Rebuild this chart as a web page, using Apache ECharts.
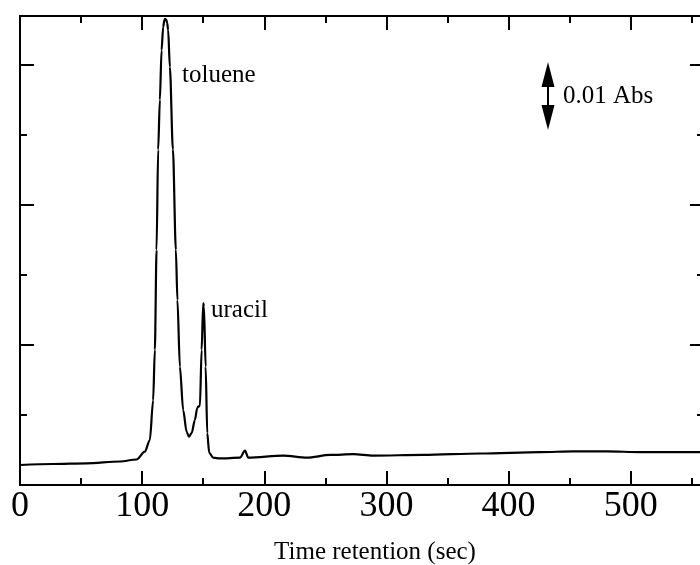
<!DOCTYPE html>
<html>
<head>
<meta charset="utf-8">
<script src="https://cdn.jsdelivr.net/npm/echarts@6/dist/echarts.min.js"></script>
<style>html,body{margin:0;padding:0;background:#fff}#c{width:700px;height:565px}</style>
</head>
<body>
<div id="c"></div>
<script>
// Retention time (sec)
var timeSec = [0, 26.8, 54.4, 81.7, 95.4, 102.2, 106.3, 109.0, 110.4, 111.8, 113.1, 114.5, 115.9, 117.2, 118.2, 118.9, 119.7, 120.5, 121.3, 122.7, 125.2, 127.6, 128.9, 130.9, 133.6, 136.4, 138.3, 140.5, 143.2, 145.1, 145.9, 147.3, 148.7, 150.0, 150.6, 152.0, 153.3, 154.9, 158.2, 163.7, 180.1, 184.2, 186.9, 215.6, 234.8, 253.9, 272.9, 289.1, 330.1, 376.8, 426.0, 453.0, 480.7, 507.9, 557.1];
// Absorbance (Abs)
var absorbance = [0.00286, 0.0030, 0.0031, 0.00336, 0.00364, 0.00476, 0.00643, 0.0121, 0.0193, 0.0336, 0.0479, 0.0550, 0.0621, 0.0654, 0.0664, 0.0666, 0.0665, 0.0660, 0.0650, 0.0597, 0.0479, 0.0336, 0.0264, 0.0169, 0.0107, 0.0076, 0.0069, 0.0074, 0.0093, 0.0110, 0.0112, 0.0113, 0.0193, 0.0260, 0.0255, 0.0169, 0.0074, 0.0046, 0.0039, 0.0038, 0.0039, 0.0049, 0.0039, 0.0042, 0.0039, 0.0043, 0.0044, 0.0042, 0.0043, 0.0045, 0.0047, 0.0048, 0.0048, 0.0047, 0.0047];
var xTickLabels = ['0', '100', '200', '300', '400', '500'];
var peakLabels = ['toluene', 'uracil'];
var scaleLabel = '0.01 Abs';

var FONT = "'Liberation Serif','Times New Roman',serif";
var data = timeSec.map(function (t, i) { return [t, absorbance[i]]; });

var chart = echarts.init(document.getElementById('c'), null, {renderer: 'canvas'});
var G = {left: 20, top: 16, width: 684, height: 469, outerBoundsMode: 'none', containLabel: false};
var axisLine = {show: true, onZero: false, lineStyle: {color: '#000', width: 2}};
function xAx(grid, pos, interval, len, labels) {
  return {
    type: 'value', gridIndex: grid, position: pos, min: 0, max: 560, interval: interval,
    axisLine: axisLine,
    axisTick: {show: true, inside: true, length: len, lineStyle: {color: '#000', width: 2}},
    splitLine: {show: false},
    axisLabel: labels ? {
      show: true, margin: 4, showMaxLabel: false, color: '#000', fontFamily: FONT, fontSize: 36,
      formatter: function (v) { var s = String(Math.round(v)); return xTickLabels.indexOf(s) >= 0 ? s : ''; }
    } : {show: false},
    name: labels ? 'Time retention (sec)' : '',
    nameLocation: 'middle', nameGap: 55,
    nameTextStyle: {color: '#000', fontFamily: FONT, fontSize: 25, padding: [0, 0, 0, 26]}
  };
}
function yAx(grid, pos, interval, len) {
  return {
    type: 'value', gridIndex: grid, position: pos, min: 0, max: 0.067, interval: interval,
    axisLine: axisLine,
    axisTick: {show: true, inside: true, length: len, lineStyle: {color: '#000', width: 2}},
    splitLine: {show: false},
    axisLabel: {show: false}
  };
}

chart.setOption({
  animation: false,
  backgroundColor: '#fff',
  grid: [Object.assign({}, G), Object.assign({}, G)],
  xAxis: [
    xAx(0, 'bottom', 100, 14, true),
    xAx(0, 'top', 100, 14, false),
    xAx(1, 'bottom', 50, 7, false),
    xAx(1, 'top', 50, 7, false)
  ],
  yAxis: [
    yAx(0, 'left', 0.02, 14),
    yAx(0, 'right', 0.02, 14),
    yAx(1, 'left', 0.01, 7),
    yAx(1, 'right', 0.01, 7)
  ],
  series: [{
    type: 'line', xAxisIndex: 0, yAxisIndex: 0, data: data,
    showSymbol: false, smooth: 0.3, smoothMonotone: 'x', clip: true,
    lineStyle: {color: '#000', width: 2.2}
  }],
  graphic: [
    {type: 'text', left: 182, top: 63, style: {text: peakLabels[0], font: '25px ' + FONT, fill: '#000'}},
    {type: 'text', left: 211, top: 298, style: {text: peakLabels[1], font: '25px ' + FONT, fill: '#000'}},
    {type: 'text', left: 563, top: 84, style: {text: scaleLabel, font: '25px ' + FONT, fill: '#000'}},
    {type: 'line', shape: {x1: 548, y1: 80, x2: 548, y2: 112}, style: {stroke: '#000', lineWidth: 2}},
    {type: 'polygon', shape: {points: [[548, 62], [541.5, 87], [554.5, 87]]}, style: {fill: '#000'}},
    {type: 'polygon', shape: {points: [[548, 130], [541.5, 105], [554.5, 105]]}, style: {fill: '#000'}}
  ]
});
</script>
</body>
</html>
